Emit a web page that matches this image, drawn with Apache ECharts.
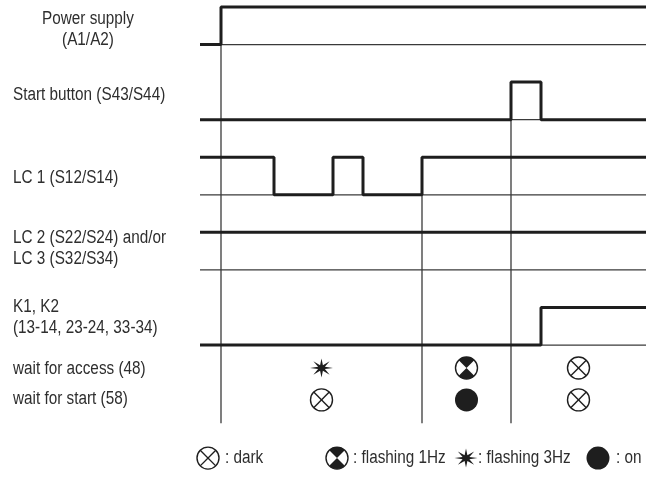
<!DOCTYPE html>
<html><head><meta charset="utf-8">
<script src="https://cdn.jsdelivr.net/npm/echarts@6/dist/echarts.min.js"></script>
<style>html,body{margin:0;padding:0;background:#fff}#c{width:671px;height:477px}</style>
</head><body><div id="c"></div>
<script>
// ---------- data ----------
const rowLabels = ['Power supply\n(A1/A2)', 'Start button (S43/S44)', 'LC 1 (S12/S14)', 'LC 2 (S22/S24) and/or\nLC 3 (S32/S34)', 'K1, K2\n(13-14, 23-24, 33-34)'];
const END_TIME = 446;
// transitions: [time, state]
const powerSupply = [[0, 0], [21, 1]];
const startButton = [[0, 0], [311, 1], [341, 0]];
const lc1 = [[0, 1], [74, 0], [133, 1], [163, 0], [222, 1]];
const lc23 = [[0, 1]];
const k1k2 = [[0, 0], [341, 1]];
const phaseBounds = [21, 222, 311, END_TIME];
const ledLabels = ['wait for access (48)', 'wait for start (58)'];
const ledAccess = ['flash3', 'flash1', 'dark'];
const ledStart = ['dark', 'on', 'dark'];
const legendKinds = ['dark', 'flash1', 'flash3', 'on'];
const legendTexts = [': dark', ': flashing 1Hz', ': flashing 3Hz', ': on'];

// ---------- layout ----------
const signals = [powerSupply, startButton, lc1, lc23, k1k2];
const base = k => (signals.length - 1 - k) * 2;
const LINE_BOTTOM = -2.08;
const LED_ROWS = [-0.61, -1.46];
const LABEL_Y = [8.41, 6.66, 4.45, 2.58, 0.73];
const LED_LABEL_Y = [-0.65, -1.45];
const LEGEND_Y = -3.01;
const LABEL_X = -187;
const FONT = '18px "Liberation Sans", Arial, sans-serif';
const SCALE_X = 0.85;
const TXT = '#2e2e2e';
const INK = '#1e1e1e';
const legendIconX = [8, 137, 266, 398];
const legendTextX = [25, 153, 278, 416];

function stepPoints(tr, b) {
  const pts = [];
  tr.forEach(([t, s], i) => { if (i > 0) pts.push([t, b + tr[i - 1][1]]); pts.push([t, b + s]); });
  pts.push([END_TIME, b + tr[tr.length - 1][1]]);
  return pts;
}
const series = [];
const thin = { color: '#3a3a3a', width: 1.3 };
const thick = { color: INK, width: 3 };
function lineSeries(data, ls, z) {
  series.push({ type: 'line', data, symbol: 'none', silent: true, animation: false, z, lineStyle: ls, clip: false });
}
// thin baselines
signals.forEach((s, k) => lineSeries([[0, base(k)], [END_TIME, base(k)]], thin, 1));
// thin phase dividers
phaseBounds.slice(0, 3).forEach(t => {
  const k = signals.findIndex(s => s.some(([tt], i) => i > 0 && tt === t));
  lineSeries([[t, base(k)], [t, LINE_BOTTOM]], thin, 1);
});
// thick signals
signals.forEach((s, k) => lineSeries(stepPoints(s, base(k)), thick, 3));

// LED icons
const centers = phaseBounds.slice(0, 3).map((t, i) => (t + phaseBounds[i + 1]) / 2);
const kinds = ['dark', 'flash1', 'flash3', 'on'];
const iconData = [];
[ledAccess, ledStart].forEach((row, r) => row.forEach((k, i) => iconData.push([centers[i], LED_ROWS[r], kinds.indexOf(k)])));
legendKinds.forEach((k, i) => iconData.push([legendIconX[i], LEGEND_Y, kinds.indexOf(k)]));

function iconShape(kind, cx, cy, r) {
  const lw = 1.4, d = r * Math.SQRT1_2;
  if (kind === 'on') return { type: 'circle', shape: { cx, cy, r: r + 0.5 }, style: { fill: INK } };
  if (kind === 'dark') return { type: 'group', children: [
    { type: 'circle', shape: { cx, cy, r }, style: { fill: '#fff', stroke: INK, lineWidth: lw } },
    { type: 'line', shape: { x1: cx - d, y1: cy - d, x2: cx + d, y2: cy + d }, style: { stroke: INK, lineWidth: lw } },
    { type: 'line', shape: { x1: cx + d, y1: cy - d, x2: cx - d, y2: cy + d }, style: { stroke: INK, lineWidth: lw } }] };
  if (kind === 'flash1') return { type: 'group', children: [
    { type: 'circle', shape: { cx, cy, r }, style: { fill: '#fff', stroke: INK, lineWidth: lw } },
    { type: 'sector', shape: { cx, cy, r0: 0, r, startAngle: -3 * Math.PI / 4, endAngle: -Math.PI / 4 }, style: { fill: INK } },
    { type: 'sector', shape: { cx, cy, r0: 0, r, startAngle: Math.PI / 4, endAngle: 3 * Math.PI / 4 }, style: { fill: INK } }] };
  const pts = [];
  for (let i = 0; i < 16; i++) {
    const a = i * Math.PI / 8, rr = i % 2 === 0 ? 1 : 0.32;
    pts.push([cx + Math.cos(a) * 11.5 * rr, cy + Math.sin(a) * 9.5 * rr]);
  }
  return { type: 'polygon', shape: { points: pts }, style: { fill: INK } };
}
series.push({
  type: 'custom', data: iconData, silent: true, animation: false, z: 5, clip: false,
  renderItem: (p, api) => {
    const c = api.coord([api.value(0), api.value(1)]);
    return iconShape(kinds[api.value(2)], c[0], c[1], 11);
  }
});

// texts
const textData = [];
rowLabels.forEach((t, k) => textData.push({ value: [k === 0 ? -112 : LABEL_X, LABEL_Y[k]], text: t, align: k === 0 ? 'center' : 'left' }));
ledLabels.forEach((t, k) => textData.push({ value: [LABEL_X, LED_LABEL_Y[k]], text: t, align: 'left' }));
legendTexts.forEach((t, k) => textData.push({ value: [legendTextX[k], LEGEND_Y], text: t, align: 'left' }));
series.push({
  type: 'custom', data: textData, silent: true, animation: false, z: 6, clip: false,
  renderItem: (p, api) => {
    const d = textData[p.dataIndex];
    const c = api.coord([api.value(0), api.value(1)]);
    return { type: 'text', x: c[0], y: c[1], scaleX: SCALE_X, style: { text: d.text, x: 0, y: 0, font: FONT, fill: TXT, align: d.align, verticalAlign: 'middle', lineHeight: 21 } };
  }
});

const chart = echarts.init(document.getElementById('c'), null, { renderer: 'canvas' });
chart.setOption({
  backgroundColor: '#fff',
  animation: false,
  grid: { left: 0, right: 0, top: 7, bottom: 0.5 },
  xAxis: { type: 'value', min: -200, max: 471, show: false },
  yAxis: { type: 'value', min: -3.5, max: 9, show: false },
  series
});
</script></body></html>
